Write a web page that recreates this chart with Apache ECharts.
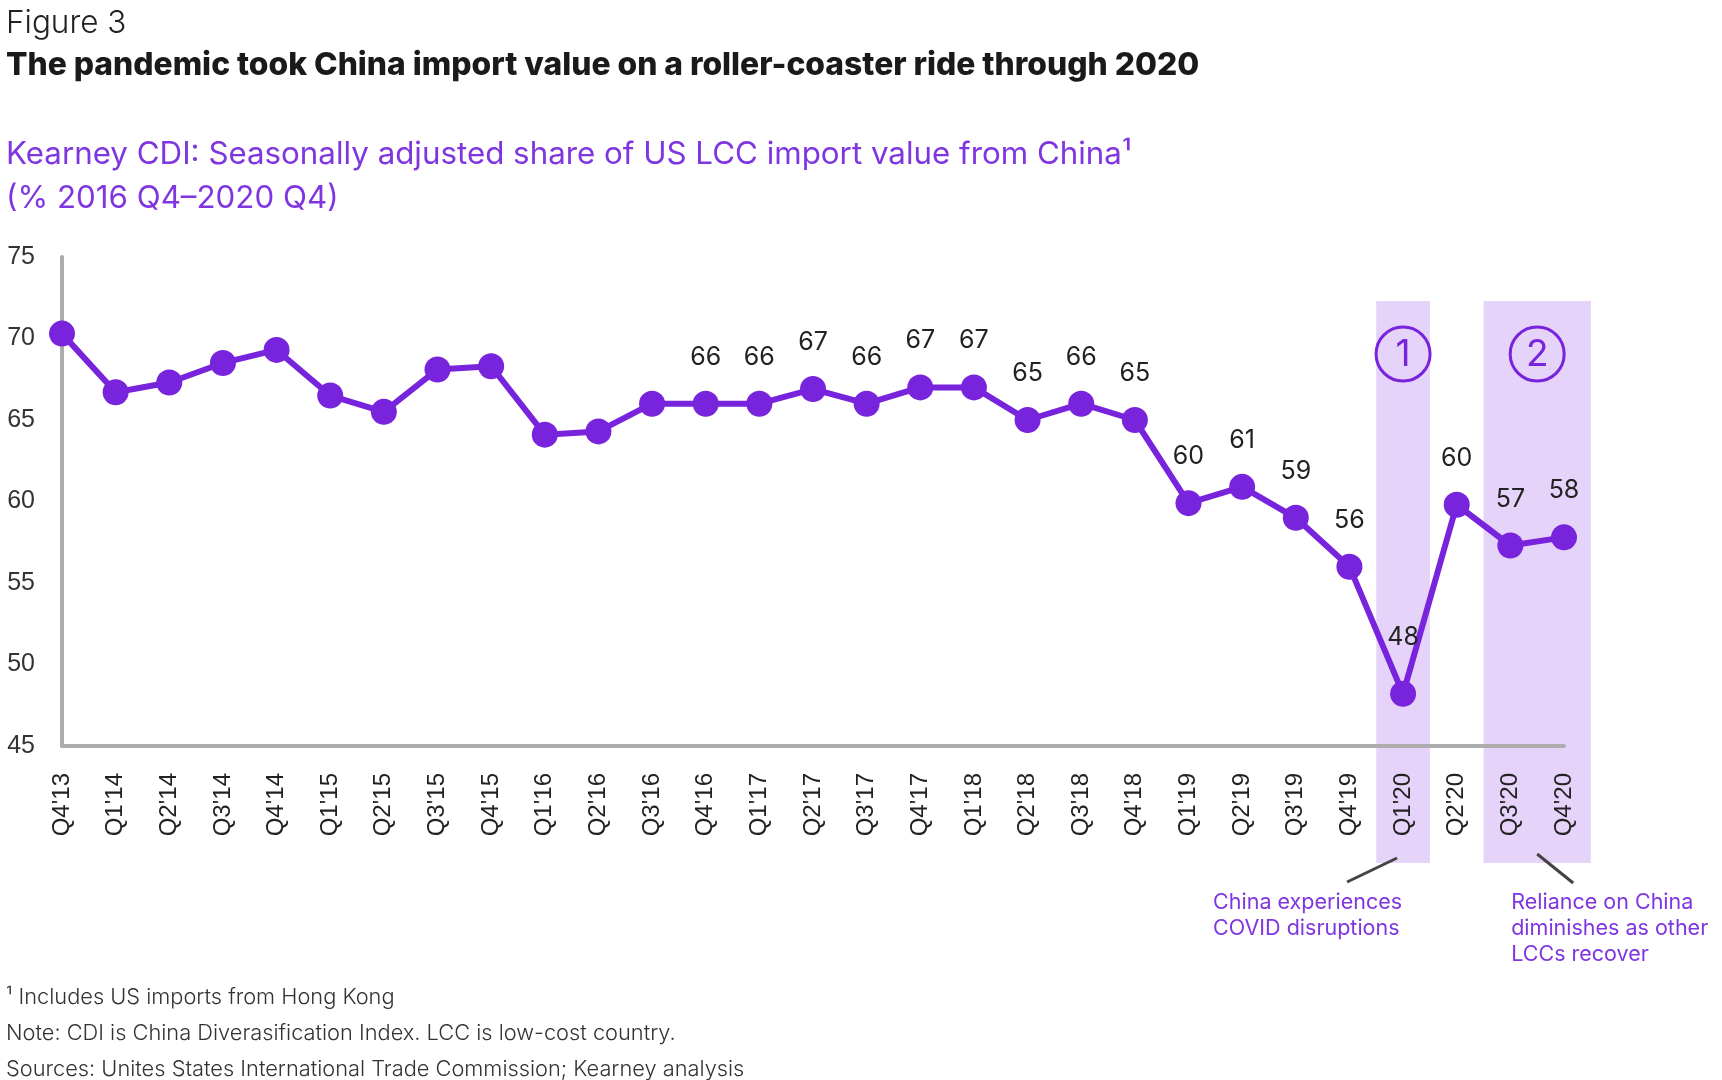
<!DOCTYPE html>
<html>
<head>
<meta charset="utf-8">
<script src="https://cdn.jsdelivr.net/npm/echarts@6/dist/echarts.min.js"></script>
<style>
html,body{margin:0;padding:0;background:#fff;}
#chart{width:1722px;height:1080px;}
</style>
</head>
<body>
<div id="chart"></div>
<script>
const categories = ["Q4'13","Q1'14","Q2'14","Q3'14","Q4'14","Q1'15","Q2'15","Q3'15","Q4'15",
  "Q1'16","Q2'16","Q3'16","Q4'16","Q1'17","Q2'17","Q3'17","Q4'17","Q1'18","Q2'18","Q3'18","Q4'18",
  "Q1'19","Q2'19","Q3'19","Q4'19","Q1'20","Q2'20","Q3'20","Q4'20"];
const values = [70.3,66.7,67.3,68.5,69.3,66.5,65.5,68.1,68.3,
  64.1,64.3,66.0,66.0,66.0,66.9,66.0,67.0,67.0,65.0,66.0,65.0,
  59.9,60.9,59.0,56.0,48.2,59.8,57.3,57.8];
const labelFromCategory = "Q4'16";
const yTicks = [45,50,55,60,65,70,75];
const bands = [
  {from:"Q1'20", to:"Q1'20", number:"1"},
  {from:"Q3'20", to:"Q4'20", number:"2"}
];
const annotations = [
  {lines:["China experiences","COVID disruptions"]},
  {lines:["Reliance on China","diminishes as other","LCCs recover"]}
];
const figureLabel = "Figure 3";
const titleText = "The pandemic took China import value on a roller-coaster ride through 2020";
const subtitleLines = ["Kearney CDI: Seasonally adjusted share of US LCC import value from China\u00B9","(% 2016 Q4\u20132020 Q4)"];
const footerLines = ["\u00B9 Includes US imports from Hong Kong",
  "Note: CDI is China Diverasification Index. LCC is low-cost country.",
  "Sources: Unites States International Trade Commission; Kearney analysis"];

const PURPLE = '#7823DC';
const LIGHT_PURPLE = '#7F35E0';
const BAND = '#E6D3FA';
const AXIS = '#ADADAD';

const chart = echarts.init(document.getElementById('chart'), null, {renderer:'canvas'});
const labelStart = categories.indexOf(labelFromCategory);

const seriesData = values.map((v,i)=>{
  const item = {value:v};
  if (i >= labelStart) {
    item.label = {show:true};
    if (v < 50) item.label.distance = 31;
  }
  return item;
});

const option = {
  animation:false,
  grid:{left:62,right:158,top:257,bottom:334,containLabel:false},
  xAxis:{
    type:'category', data:categories, boundaryGap:false,
    axisLine:{show:true,lineStyle:{color:AXIS,width:4}},
    axisTick:{show:false},
    axisLabel:{rotate:90,margin:27,fontSize:24,color:'#222',fontFamily:'Liberation Sans',interval:0}
  },
  yAxis:{
    type:'value', min:yTicks[0], max:yTicks[yTicks.length-1], interval:5,
    axisLine:{show:true,lineStyle:{color:AXIS,width:4}},
    axisTick:{show:false},
    splitLine:{show:false},
    axisLabel:{margin:27,fontSize:25,color:'#333',fontFamily:'Liberation Sans'}
  },
  series:[{
    type:'line', data:seriesData, symbol:'circle', symbolSize:26,
    z:5,
    itemStyle:{color:PURPLE},
    lineStyle:{color:PURPLE,width:6},
    label:{show:false,position:'top',distance:21,fontSize:25,color:'#222',fontFamily:'Inter',
      formatter:p=>Math.round(p.value)}
  }]
};
chart.setOption(option);

function buildGraphics(){
  const g = [];
  const xp = c => chart.convertToPixel({xAxisIndex:0}, c);
  const yp = v => chart.convertToPixel({yAxisIndex:0}, v);
  const step = xp(categories[1]) - xp(categories[0]);
  const axisBottom = yp(yTicks[0]);
  const bandTop = yp(72.3);
  const bandBottom = axisBottom + 117;
  bands.forEach((b,i)=>{
    const x1 = xp(b.from) - step/2, x2 = xp(b.to) + step/2;
    const cx = (x1+x2)/2;
    g.push({type:'rect', z:-10, shape:{x:x1,y:bandTop,width:x2-x1,height:bandBottom-bandTop}, style:{fill:BAND}});
    g.push({type:'circle', z:10, shape:{cx:cx,cy:bandTop+53,r:27}, style:{fill:'none',stroke:PURPLE,lineWidth:3}});
    g.push({type:'text', z:11, style:{text:b.number,x:cx,y:bandTop+54,align:'center',verticalAlign:'middle',
      font:'400 37px Inter',fill:PURPLE}});
  });
  const c1 = xp(bands[0].from);
  g.push({type:'line', z:10, shape:{x1:c1-6,y1:axisBottom+112,x2:c1-56,y2:axisBottom+136}, style:{stroke:'#444',lineWidth:3}});
  const c2 = (xp(bands[1].from)+xp(bands[1].to))/2;
  g.push({type:'line', z:10, shape:{x1:c2,y1:axisBottom+108,x2:c2+36,y2:axisBottom+137}, style:{stroke:'#444',lineWidth:3}});
  annotations[0].lines.forEach((t,k)=>{
    g.push({type:'text', style:{text:t,x:c1-190,y:axisBottom+157+k*25.8,align:'left',verticalAlign:'middle',font:'400 21.5px Inter',fill:LIGHT_PURPLE}});
  });
  annotations[1].lines.forEach((t,k)=>{
    g.push({type:'text', style:{text:t,x:c2-26,y:axisBottom+157+k*25.8,align:'left',verticalAlign:'middle',font:'400 21.5px Inter',fill:LIGHT_PURPLE}});
  });
  g.push({type:'text', style:{text:figureLabel,x:6,y:24,align:'left',verticalAlign:'middle',font:'300 31.5px Inter',fill:'#222'}});
  g.push({type:'text', style:{text:titleText,x:6,y:65,align:'left',verticalAlign:'middle',font:'800 31.8px Inter',fill:'#1a1a1a'}});
  subtitleLines.forEach((t,k)=>{
    g.push({type:'text', style:{text:t,x:6,y:155+k*44,align:'left',verticalAlign:'middle',font:'400 31.3px Inter',fill:LIGHT_PURPLE}});
  });
  footerLines.forEach((t,k)=>{
    g.push({type:'text', style:{text:t,x:6,y:997+k*36,align:'left',verticalAlign:'middle',font:'300 21.8px Inter',fill:'#333'}});
  });
  chart.setOption({graphic:{elements:g}});
}
buildGraphics();
</script>
</body>
</html>
